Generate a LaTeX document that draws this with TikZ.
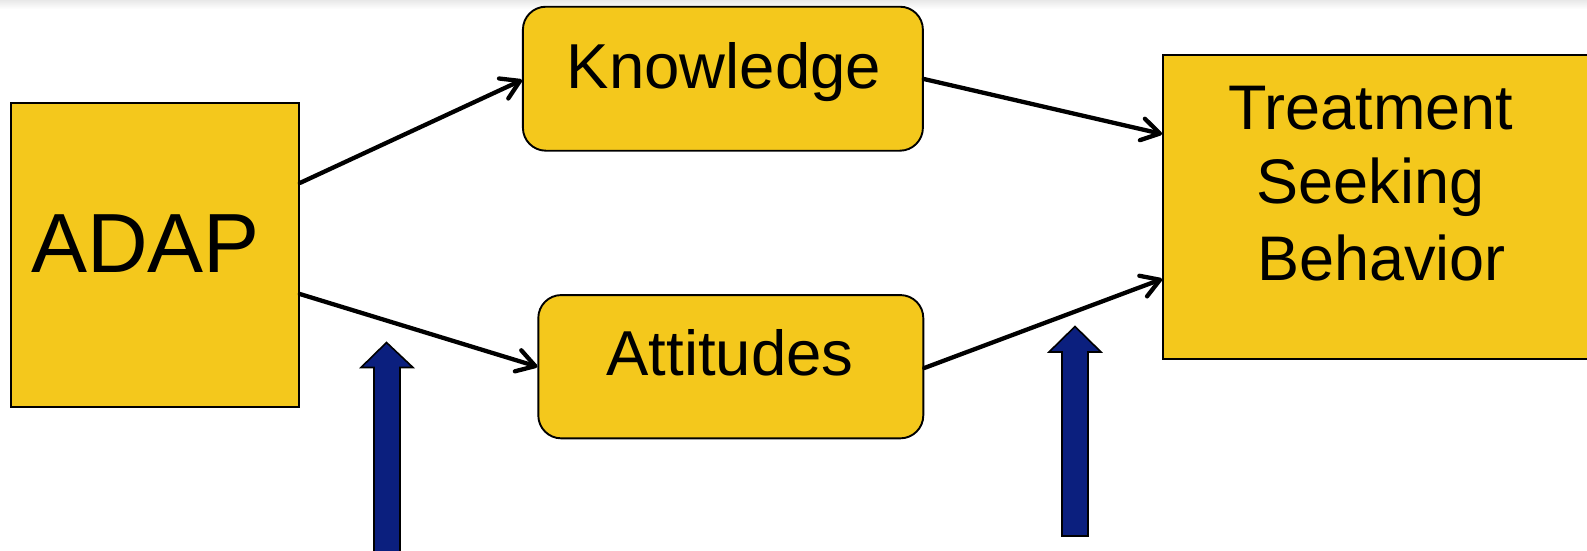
\documentclass[tikz,border=0pt]{standalone}
\usepackage{fontspec}
\setmainfont{Liberation Sans}
\usetikzlibrary{arrows.meta}
\definecolor{boxyellow}{HTML}{F4C81C}
\definecolor{arrowblue}{HTML}{0B1F7E}
\begin{document}
\begin{tikzpicture}[x=1pt,y=-1pt,
  sqbox/.style={draw=black,line width=1.9pt,fill=boxyellow,inner sep=0pt,rectangle},
  rbox/.style={sqbox,rounded corners=23pt},
  txt/.style={inner sep=0pt,anchor=base,text=black},
  conn/.style={line width=4.3pt,line cap=round,-{Straight Barb[length=18pt,width=22pt,line cap=round,line join=round]}},
  bigup/.style={draw=black,line width=1.6pt,fill=arrowblue,line join=miter}
]
\useasboundingbox (0,0) rectangle (1587,550);
\clip (0,0) rectangle (1587,550);
\fill[top color=black!9,bottom color=white] (0,0) rectangle (1587,9);
% boxes
\node[sqbox,minimum width=288pt,minimum height=304pt] (adap) at (154.9,255) {};
\node[rbox,minimum width=400pt,minimum height=144pt] (know) at (722.9,78.7) {};
\node[rbox,minimum width=385pt,minimum height=143.3pt] (att) at (730.8,366.7) {};
\node[sqbox,minimum width=457pt,minimum height=304pt] (tsb) at (1391.5,207) {};
% texts
\node[txt,font=\fontsize{84}{90}\selectfont] (adapt) at (145.5,272.7) {ADAP};
\node[txt,font=\fontsize{63.5}{75}\selectfont] (knowt) at (724,88.3) {Knowledge};
\node[txt,font=\fontsize{63.5}{75}\selectfont] (attt) at (730,375.7) {Attitudes};
\node[txt,font=\fontsize{63}{75}\selectfont] (tsbA) at (1371,129) {Treatment};
\node[txt,font=\fontsize{63}{75}\selectfont] (tsbB) at (1370.3,203) {Seeking};
\node[txt,font=\fontsize{63}{75}\selectfont] (tsbC) at (1381.4,280) {Behavior};
% connectors
\draw[conn] (adap.east |- 0,183) -- (know.west |- 0,80);
\draw[conn] (adap.east |- 0,294) -- (att.west);
\draw[conn] (know.east |- 0,79) -- (tsb.west |- 0,134);
\draw[conn] (att.east |- 0,368) -- (tsb.west |- 0,279);
% blue arrows
\draw[bigup] (374,565) -- (374,367.5) -- (361,367.5) -- (386.5,342.5) -- (413,367.5) -- (400,367.5) -- (400,565) -- cycle;
\draw[bigup] (1062,536) -- (1062,352) -- (1049,352) -- (1075,326.5) -- (1101,352) -- (1088,352) -- (1088,536) -- cycle;
\end{tikzpicture}
\end{document}
